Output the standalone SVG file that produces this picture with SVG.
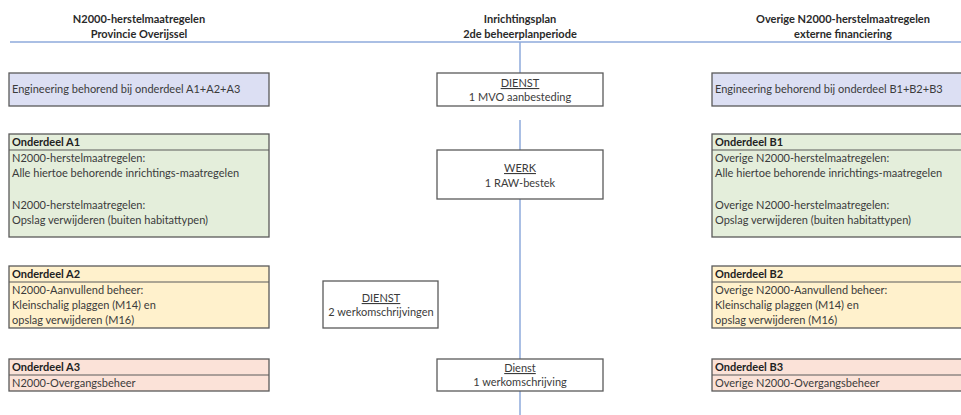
<svg xmlns="http://www.w3.org/2000/svg" width="961" height="415" viewBox="0 0 961 415">
<style>
text{font-family:Lato,"Liberation Sans",sans-serif;font-size:11px;fill:#3b3b3b}
.h{font-weight:bold;fill:#2a2a2a;text-anchor:middle}
.b{font-weight:bold;fill:#222}
.c{text-anchor:middle}
.u{text-decoration:underline}
.box{stroke:#5a5a5a;stroke-width:1.3}
.sep{stroke:#5a5a5a;stroke-width:1.2}
.lav{fill:#dcdff3}
.grn{fill:#e4eedb}
.yel{fill:#fff1cc}
.pnk{fill:#fbe2d8}
.wht{fill:#fff}
.ln{stroke:#8eaadb;stroke-width:1.5;fill:none}
</style>
<rect width="961" height="415" fill="#fff"/>
<g id="connectors">
<line class="ln" x1="10" y1="42" x2="961" y2="42"/>
<line class="ln" x1="520" y1="42" x2="520" y2="73"/>
<line class="ln" x1="520" y1="120" x2="520" y2="150"/>
<line class="ln" x1="520" y1="199" x2="520" y2="359"/>
<line class="ln" x1="520" y1="391" x2="520" y2="415"/>
</g>
<g id="header-left">
<text class="h" x="139" y="23">N2000-herstelmaatregelen</text>
<text class="h" x="139" y="38">Provincie Overijssel</text>
</g>
<g id="header-center">
<text class="h" x="520" y="23">Inrichtingsplan</text>
<text class="h" x="520" y="38">2de beheerplanperiode</text>
</g>
<g id="header-right">
<text class="h" x="843" y="23">Overige N2000-herstelmaatregelen</text>
<text class="h" x="843" y="38">externe financiering</text>
</g>
<g id="eng-a">
<rect class="box lav" x="9" y="73" width="260" height="33"/>
<text x="12" y="93">Engineering behorend bij onderdeel A1+A2+A3</text>
</g>
<g id="eng-b">
<rect class="box lav" x="712" y="73" width="260" height="33"/>
<text x="715" y="93">Engineering behorend bij onderdeel B1+B2+B3</text>
</g>
<g id="dienst-mvo">
<rect class="box wht" x="437" y="73" width="166" height="33"/>
<text class="c u" x="520" y="87">DIENST</text>
<text class="c" x="520" y="101">1 MVO aanbesteding</text>
</g>
<g id="werk">
<rect class="box wht" x="437" y="150" width="166" height="49"/>
<text class="c u" x="520" y="172">WERK</text>
<text class="c" x="520" y="187">1 RAW-bestek</text>
</g>
<g id="dienst-2">
<rect class="box wht" x="323" y="281" width="115" height="47"/>
<text class="c u" x="381" y="302">DIENST</text>
<text class="c" x="381" y="316">2 werkomschrijvingen</text>
</g>
<g id="dienst-1">
<rect class="box wht" x="437" y="359" width="166" height="32"/>
<text class="c u" x="520" y="372">Dienst</text>
<text class="c" x="520" y="386">1 werkomschrijving</text>
</g>
<g id="a1">
<rect class="box grn" x="9" y="134" width="260" height="103"/>
<line class="sep" x1="9" y1="150" x2="269" y2="150"/>
<text class="b" x="12" y="146">Onderdeel A1</text>
<text x="12" y="162">N2000-herstelmaatregelen:</text>
<text x="12" y="177">Alle hiertoe behorende inrichtings-maatregelen</text>
<text x="12" y="209">N2000-herstelmaatregelen:</text>
<text x="12" y="224">Opslag verwijderen (buiten habitattypen)</text>
</g>
<g id="b1">
<rect class="box grn" x="712" y="134" width="260" height="103"/>
<line class="sep" x1="712" y1="150" x2="972" y2="150"/>
<text class="b" x="715" y="146">Onderdeel B1</text>
<text x="715" y="162">Overige N2000-herstelmaatregelen:</text>
<text x="715" y="177">Alle hiertoe behorende inrichtings-maatregelen</text>
<text x="715" y="209">Overige N2000-herstelmaatregelen:</text>
<text x="715" y="224">Opslag verwijderen (buiten habitattypen)</text>
</g>
<g id="a2">
<rect class="box yel" x="9" y="266" width="260" height="62"/>
<line class="sep" x1="9" y1="282" x2="269" y2="282"/>
<text class="b" x="12" y="278">Onderdeel A2</text>
<text x="12" y="294">N2000-Aanvullend beheer:</text>
<text x="12" y="309">Kleinschalig plaggen (M14) en</text>
<text x="12" y="324">opslag verwijderen (M16)</text>
</g>
<g id="b2">
<rect class="box yel" x="712" y="266" width="260" height="62"/>
<line class="sep" x1="712" y1="282" x2="972" y2="282"/>
<text class="b" x="715" y="278">Onderdeel B2</text>
<text x="715" y="294">Overige N2000-Aanvullend beheer:</text>
<text x="715" y="309">Kleinschalig plaggen (M14) en</text>
<text x="715" y="324">opslag verwijderen (M16)</text>
</g>
<g id="a3">
<rect class="box pnk" x="9" y="359" width="260" height="32"/>
<line class="sep" x1="9" y1="375" x2="269" y2="375"/>
<text class="b" x="12" y="371">Onderdeel A3</text>
<text x="12" y="387">N2000-Overgangsbeheer</text>
</g>
<g id="b3">
<rect class="box pnk" x="712" y="359" width="260" height="32"/>
<line class="sep" x1="712" y1="375" x2="972" y2="375"/>
<text class="b" x="715" y="371">Onderdeel B3</text>
<text x="715" y="387">Overige N2000-Overgangsbeheer</text>
</g>
</svg>
